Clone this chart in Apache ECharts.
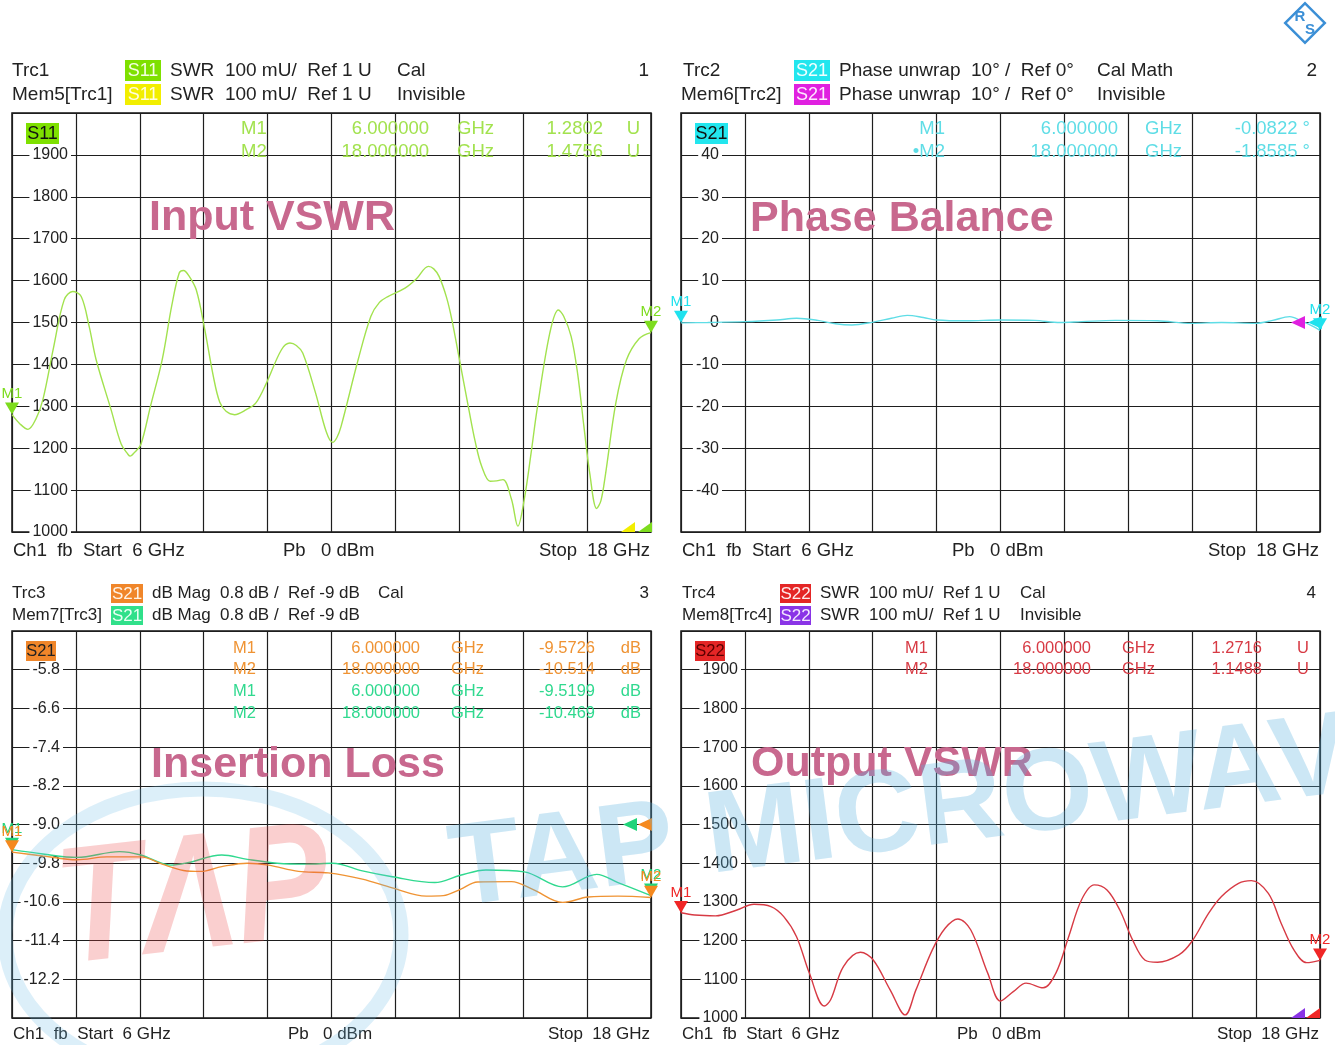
<!DOCTYPE html>
<html><head><meta charset="utf-8">
<script src="https://cdn.jsdelivr.net/npm/echarts@6/dist/echarts.min.js"></script>
<style>html,body{margin:0;padding:0;background:#fff;}#c{width:1335px;height:1045px;}</style>
</head><body><div id="c"></div>
<script>
// ---------------- DATA ----------------
const FREQ_START = 6, FREQ_STOP = 18, FREQ_DIV = 1.2;

// Panel 1: Input VSWR (S11 SWR, in mU)
const s11Freq = [6.00,6.15,6.30,6.45,6.58,6.78,6.98,7.14,7.30,7.45,7.58,7.86,8.05,8.18,8.22,8.30,8.42,8.60,8.82,9.00,9.14,9.22,9.32,9.46,9.62,9.78,9.90,10.02,10.18,10.40,10.58,10.78,11.06,11.22,11.34,11.46,11.70,11.90,12.02,12.10,12.18,12.50,12.74,12.90,13.06,13.38,13.60,13.82,13.92,14.02,14.16,14.26,14.38,14.58,14.70,14.82,14.98,15.10,15.22,15.38,15.50,15.62,15.75,15.86,16.10,16.26,16.36,16.50,16.62,16.74,16.85,16.98,17.06,17.14,17.34,17.54,17.78,18.00];
const s11Vals = [1280,1258,1245,1270,1316,1440,1554,1574,1562,1490,1411,1292,1210,1185,1181,1190,1209,1300,1411,1540,1618,1624,1612,1578,1483,1372,1310,1288,1280,1292,1308,1356,1435,1451,1445,1427,1332,1240,1214,1225,1252,1411,1515,1548,1562,1582,1605,1634,1628,1610,1560,1507,1427,1292,1215,1157,1121,1122,1125,1078,1014,1078,1190,1292,1475,1530,1515,1467,1380,1252,1140,1056,1075,1133,1308,1411,1462,1476];
const s11Markers = [[6, 1280.2], [18, 1475.6]];

// Panel 2: Phase balance (S21 phase unwrap, deg)
const phFreq = [6.0,6.5,7.2,7.8,8.17,8.57,8.9,9.21,9.61,9.95,10.25,10.55,10.8,11.36,12.0,12.64,13.12,13.52,14.16,14.95,15.59,16.15,16.79,17.11,17.43,17.65,17.85,18.0];
const phVals = [-0.08,0.0,0.2,0.6,1.0,0.5,-0.3,-0.6,0.1,1.0,1.7,1.2,0.6,0.4,0.6,0.5,0.0,0.2,0.5,0.4,-0.2,0.0,-0.2,0.5,1.4,0.4,-0.8,-1.86];
const phMarkers = [[6, -0.0822], [18, -1.8585]];

// Panel 3: Insertion loss (S21 dB mag), trace and memory
const ilFreq = [6.00,6.58,7.22,7.78,8.42,8.82,9.22,9.54,9.94,10.42,10.82,11.38,11.94,12.58,13.14,13.78,14.10,14.42,14.74,15.38,15.78,16.34,16.82,17.38,18.00];
const ilVals = [-9.57,-9.65,-9.73,-9.67,-9.67,-9.82,-9.95,-9.97,-9.87,-9.80,-9.84,-9.97,-10.00,-10.13,-10.31,-10.48,-10.47,-10.34,-10.19,-10.18,-10.34,-10.61,-10.50,-10.48,-10.51];
const ilMemFreq = [6.00,6.58,7.22,8.02,8.42,8.98,9.30,9.94,10.42,10.98,11.54,12.02,12.58,13.14,13.94,14.42,14.90,15.62,16.34,16.98,17.38,18.00];
const ilMemVals = [-9.52,-9.61,-9.68,-9.56,-9.63,-9.84,-9.79,-9.63,-9.72,-9.80,-9.82,-9.80,-9.96,-10.08,-10.20,-10.05,-9.94,-9.98,-10.29,-10.03,-10.20,-10.47];
const ilMarkers = [[6, -9.5726], [18, -10.514]];
const ilMemMarkers = [[6, -9.5199], [18, -10.469]];

// Panel 4: Output VSWR (S22 SWR, in mU)
const s22Freq = [6.00,6.26,6.65,7.05,7.37,7.69,7.93,8.17,8.41,8.69,8.81,9.05,9.37,9.61,9.93,10.21,10.41,10.72,10.96,11.20,11.44,11.76,12.00,12.24,12.48,12.80,13.04,13.28,13.52,13.76,14.00,14.24,14.48,14.71,14.95,15.35,15.59,15.91,16.15,16.47,16.71,17.03,17.27,17.51,17.75,18.00];
const s22Vals = [1272,1266,1264,1279,1294,1288,1262,1210,1116,1031,1047,1133,1170,1150,1072,1008,1072,1176,1232,1256,1228,1116,1044,1068,1090,1078,1116,1210,1305,1344,1331,1279,1202,1150,1144,1163,1197,1271,1314,1348,1355,1322,1245,1176,1143,1149];
const s22Markers = [[6, 1271.6], [18, 1148.8]];

// axis scales
const SWR_MIN = 1000, SWR_MAX = 2000, SWR_DIV = 100;
const PH_MIN = -50, PH_MAX = 50, PH_DIV = 10;
const IL_MIN = -13, IL_MAX = -5, IL_DIV = 0.8;
const REF_SWR = 1000, REF_PH = 0, REF_IL = -9;

// ---------------- STYLE ----------------
const FONT = '"Liberation Sans", Arial, sans-serif';
const C = {
  s11: '#a2e24e', s11m: '#7ddc1e', s11box: '#7ee000', mem5: '#f2ee00',
  ph: '#5fdde6', phm: '#1fe2ee', phbox: '#22e6ee', mem6: '#e020e0',
  il: '#ef9333', ilm: '#f5891e', ilbox: '#f0862a', il2: '#30d98f', il2m: '#22d47a', mem7: '#30e08a',
  s22: '#d73a44', s22m: '#f02626', s22box: '#e42626', mem8: '#8a34e6',
  title: '#c8688e', grid: '#1e1e1e'
};

const chart = echarts.init(document.getElementById('c'), null, {renderer: 'canvas'});

const gridDefs = [
  {left: 12, top: 113, width: 639, height: 419},
  {left: 681, top: 113, width: 639, height: 419},
  {left: 12, top: 631, width: 639, height: 387},
  {left: 681, top: 631, width: 639, height: 387}
].map(g => Object.assign(g, {show: true, borderColor: '#111', borderWidth: 1.5, backgroundColor: 'transparent'}));

const xAxes = [0,1,2,3].map(i => ({
  type: 'value', gridIndex: i, min: FREQ_START, max: FREQ_STOP, interval: FREQ_DIV,
  axisLine: {show: false}, axisTick: {show: false}, axisLabel: {show: false},
  splitLine: {show: true, lineStyle: {color: C.grid, width: 1.2}}
}));

function yAx(i, min, max, interval, margin, fmt, showMin) {
  return {
    type: 'value', gridIndex: i, min, max, interval,
    axisLine: {show: false}, axisTick: {show: false},
    splitLine: {show: true, lineStyle: {color: C.grid, width: 1.2}},
    axisLabel: {show: true, inside: true, align: 'right', margin, color: '#222', fontSize: 16,
      fontFamily: FONT, backgroundColor: '#fff', padding: [0, 3], formatter: fmt,
      showMinLabel: showMin, showMaxLabel: false}
  };
}
// insertion-loss axis is expressed as offset above its bottom so divisions start at the bottom line
const yAxes = [
  yAx(0, SWR_MIN, SWR_MAX, SWR_DIV, 59, v => String(Math.round(v)), true),
  yAx(1, PH_MIN, PH_MAX, PH_DIV, 41, v => String(Math.round(v)), false),
  yAx(2, 0, IL_MAX - IL_MIN, IL_DIV, 51, v => (v + IL_MIN).toFixed(1), false),
  yAx(3, SWR_MIN, SWR_MAX, SWR_DIV, 60, v => String(Math.round(v)), true)
];

function mkDown(name, coord, color) {
  return {name, coord, symbol: 'triangle', symbolSize: [14, 12], symbolRotate: 180, symbolOffset: [0, -6],
    itemStyle: {color},
    label: {show: true, position: 'top', distance: 1, formatter: name, color, fontSize: 15, fontFamily: FONT}};
}
function refTri(coord, color, dx, half) {
  return {name: 'ref', coord,
    symbol: half ? 'path://M0,10L14,0L14,10Z' : 'triangle',
    symbolSize: half ? [14, 10] : [13, 14], symbolRotate: half ? 0 : 90,
    symbolOffset: half ? [dx, -5] : [dx, 0], itemStyle: {color}, label: {show: false}};
}
function lineSeries(i, freq, vals, color, marks, off) {
  off = off || 0;
  return {
    type: 'line', xAxisIndex: i, yAxisIndex: i, silent: true, animation: false,
    showSymbol: false, smooth: 0.35, clip: true,
    lineStyle: {color, width: 1.4}, itemStyle: {color},
    data: freq.map((f, k) => [f, vals[k] - off]),
    markPoint: {silent: true, animation: false, data: marks || []}
  };
}

const series = [
  lineSeries(0, s11Freq, s11Vals, C.s11, [
    refTri([FREQ_STOP, REF_SWR], C.mem5, -23, true),
    refTri([FREQ_STOP, REF_SWR], C.s11m, -6, true),
    mkDown('M1', s11Markers[0], C.s11m),
    mkDown('M2', s11Markers[1], C.s11m)
  ]),
  lineSeries(1, phFreq, phVals, C.ph, [
    refTri([FREQ_STOP, REF_PH], C.mem6, -22, false),
    refTri([FREQ_STOP, REF_PH], C.phm, -5, false),
    mkDown('M1', phMarkers[0], C.phm),
    mkDown('M2', phMarkers[1], C.phm)
  ]),
  lineSeries(2, ilMemFreq, ilMemVals, C.il2, [
    refTri([FREQ_STOP, REF_IL - IL_MIN], C.il2m, -21, false),
    mkDown('M1', [ilMemMarkers[0][0], ilMemMarkers[0][1] - IL_MIN], C.il2m),
    mkDown('M2', [ilMemMarkers[1][0], ilMemMarkers[1][1] - IL_MIN], C.il2m)
  ], IL_MIN),
  lineSeries(2, ilFreq, ilVals, C.il, [
    refTri([FREQ_STOP, REF_IL - IL_MIN], C.ilm, -6, false),
    mkDown('M1', [ilMarkers[0][0], ilMarkers[0][1] - IL_MIN], C.ilm),
    mkDown('M2', [ilMarkers[1][0], ilMarkers[1][1] - IL_MIN], C.ilm)
  ], IL_MIN),
  lineSeries(3, s22Freq, s22Vals, C.s22, [
    refTri([FREQ_STOP, REF_SWR], C.mem8, -22, true),
    refTri([FREQ_STOP, REF_SWR], C.s22m, -7, true),
    mkDown('M1', s22Markers[0], C.s22m),
    mkDown('M2', s22Markers[1], C.s22m)
  ])
];

// ---------------- TEXT / DECOR ----------------
const G = [];
function T(x, y, text, size, color, align, extra) {
  G.push(Object.assign({type: 'text', x, y, silent: true, z: 10,
    style: {text, fill: color || '#222', font: size + 'px ' + FONT,
      textAlign: align || 'left', align: align || 'left',
      textVerticalAlign: 'middle', verticalAlign: 'middle'}}, extra || {}));
}
function box(x, y, w, h, fill, text, tcolor, size) {
  G.push({type: 'rect', silent: true, z: 9, shape: {x, y, width: w, height: h}, style: {fill}});
  T(x + w / 2, y + h / 2 + 0.5, text, size, tcolor, 'center');
}
const swr = v => (v / 1000).toFixed(4);
const fq = f => f.toFixed(6);

// Panel 1 header
T(12, 71, 'Trc1', 19); box(125, 60, 36, 21, C.s11box, 'S11', '#f4ffe0', 18);
T(170, 71, 'SWR  100 mU/  Ref 1 U', 19); T(397, 71, 'Cal', 19); T(649, 71, '1', 19, '#222', 'right');
T(12, 95, 'Mem5[Trc1]', 19); box(125, 84, 36, 21, C.mem5, 'S11', '#fffde0', 18);
T(170, 95, 'SWR  100 mU/  Ref 1 U', 19); T(397, 95, 'Invisible', 19);
box(26, 123, 33, 21, C.s11box, 'S11', '#111', 18);
[[0, 129], [1, 152]].forEach(([k, y]) => {
  T(241, y, 'M' + (k + 1), 18.5, C.s11); T(429, y, fq(s11Markers[k][0]), 18.5, C.s11, 'right');
  T(457, y, 'GHz', 18.5, C.s11); T(603, y, swr(s11Markers[k][1]), 18.5, C.s11, 'right'); T(640, y, 'U', 18.5, C.s11, 'right');
});
T(13, 551, 'Ch1  fb  Start  6 GHz', 18.5); T(283, 551, 'Pb   0 dBm', 18.5); T(650, 551, 'Stop  18 GHz', 18.5, '#222', 'right');

// Panel 2 header
T(683, 71, 'Trc2', 19); box(794, 60, 36, 21, C.phbox, 'S21', '#f0ffff', 18);
T(839, 71, 'Phase unwrap  10° /  Ref 0°', 19); T(1097, 71, 'Cal Math', 19); T(1317, 71, '2', 19, '#222', 'right');
T(681, 95, 'Mem6[Trc2]', 19); box(794, 84, 36, 21, C.mem6, 'S21', '#ffe8ff', 18);
T(839, 95, 'Phase unwrap  10° /  Ref 0°', 19); T(1097, 95, 'Invisible', 19);
box(695, 123, 33, 21, C.phbox, 'S21', '#111', 18);
[[0, 129, 'M1'], [1, 152, '•M2']].forEach(([k, y, nm]) => {
  T(945, y, nm, 18.5, C.ph, 'right'); T(1118, y, fq(phMarkers[k][0]), 18.5, C.ph, 'right');
  T(1145, y, 'GHz', 18.5, C.ph); T(1310, y, phMarkers[k][1].toFixed(4) + ' °', 18.5, C.ph, 'right');
});
T(682, 551, 'Ch1  fb  Start  6 GHz', 18.5); T(952, 551, 'Pb   0 dBm', 18.5); T(1319, 551, 'Stop  18 GHz', 18.5, '#222', 'right');

// Panel 3 header
T(12, 593, 'Trc3', 17); box(111, 584, 32, 19, C.ilbox, 'S21', '#fff3e6', 17);
T(152, 593, 'dB Mag  0.8 dB /  Ref -9 dB', 17); T(378, 593, 'Cal', 17); T(649, 593, '3', 17, '#222', 'right');
T(12, 615, 'Mem7[Trc3]', 17); box(111, 606, 32, 19, C.mem7, 'S21', '#eafff4', 17);
T(152, 615, 'dB Mag  0.8 dB /  Ref -9 dB', 17);
box(26, 641, 30, 20, C.ilbox, 'S21', '#222', 16.5);
[[ilMarkers, 0, 648, C.il], [ilMarkers, 1, 669, C.il], [ilMemMarkers, 0, 691, C.il2], [ilMemMarkers, 1, 713, C.il2]].forEach(([arr, k, y, col]) => {
  T(233, y, 'M' + (k + 1), 16.5, col); T(420, y, fq(arr[k][0]), 16.5, col, 'right');
  T(451, y, 'GHz', 16.5, col); T(595, y, arr[k][1].toPrecision(5), 16.5, col, 'right'); T(641, y, 'dB', 16.5, col, 'right');
});
T(13, 1034, 'Ch1  fb  Start  6 GHz', 17); T(288, 1034, 'Pb   0 dBm', 17); T(650, 1034, 'Stop  18 GHz', 17, '#222', 'right');

// Panel 4 header
T(682, 593, 'Trc4', 17); box(780, 584, 31, 19, C.s22box, 'S22', '#ffecec', 17);
T(820, 593, 'SWR  100 mU/  Ref 1 U', 17); T(1020, 593, 'Cal', 17); T(1316, 593, '4', 17, '#222', 'right');
T(682, 615, 'Mem8[Trc4]', 17); box(780, 606, 31, 19, C.mem8, 'S22', '#f3e8ff', 17);
T(820, 615, 'SWR  100 mU/  Ref 1 U', 17); T(1020, 615, 'Invisible', 17);
box(695, 641, 30, 20, C.s22box, 'S22', '#5a0000', 16.5);
[[0, 648], [1, 669]].forEach(([k, y]) => {
  T(905, y, 'M' + (k + 1), 16.5, C.s22); T(1091, y, fq(s22Markers[k][0]), 16.5, C.s22, 'right');
  T(1122, y, 'GHz', 16.5, C.s22); T(1262, y, swr(s22Markers[k][1]), 16.5, C.s22, 'right'); T(1309, y, 'U', 16.5, C.s22, 'right');
});
T(682, 1034, 'Ch1  fb  Start  6 GHz', 17); T(957, 1034, 'Pb   0 dBm', 17); T(1319, 1034, 'Stop  18 GHz', 17, '#222', 'right');

// Big titles
function title(x, y, text) {
  G.push({type: 'text', x, y, silent: true, z: 5,
    style: {text, fill: C.title, font: 'bold 43px ' + FONT, textAlign: 'left', align: 'left',
      textVerticalAlign: 'middle', verticalAlign: 'middle'}});
}
title(149, 218, 'Input VSWR');
title(750, 219, 'Phase Balance');
title(151, 765, 'Insertion Loss');
title(751, 764, 'Output VSWR');

// R&S logo
G.push({type: 'rect', x: 1305, y: 23, rotation: Math.PI / 4, silent: true, z: 10,
  shape: {x: -14, y: -14, width: 28, height: 28}, style: {fill: '#fff', stroke: '#3b8fd6', lineWidth: 2.5}});
T(1300, 17, 'R', 15, '#3b8fd6', 'center', {style: {text: 'R', fill: '#3b8fd6', font: 'bold 15px ' + FONT, align: 'center', textAlign: 'center', verticalAlign: 'middle', textVerticalAlign: 'middle'}});
T(1310, 30, 'S', 15, '#3b8fd6', 'center', {style: {text: 'S', fill: '#3b8fd6', font: 'bold 15px ' + FONT, align: 'center', textAlign: 'center', verticalAlign: 'middle', textVerticalAlign: 'middle'}});

// Watermarks
G.push({type: 'ellipse', silent: true, z: 50, shape: {cx: 203, cy: 935, rx: 198, ry: 146},
  style: {fill: 'none', stroke: 'rgba(110,190,230,0.24)', lineWidth: 15}});
G.push({type: 'text', x: 58, y: 918, rotation: 0.11, scaleX: 0.85, silent: true, z: 50,
  style: {text: 'TΛP', fill: 'rgba(235,70,70,0.26)', font: 'italic bold 165px ' + FONT,
    textAlign: 'left', align: 'left', textVerticalAlign: 'middle', verticalAlign: 'middle'}});
G.push({type: 'text', x: 451, y: 874, rotation: 0.128, silent: true, z: 50,
  style: {text: 'TAP MICROWAVE', fill: 'rgba(90,178,222,0.31)', font: 'bold 117px ' + FONT,
    textAlign: 'left', align: 'left', textVerticalAlign: 'middle', verticalAlign: 'middle'}});

chart.setOption({
  backgroundColor: '#fff',
  animation: false,
  grid: gridDefs,
  xAxis: xAxes,
  yAxis: yAxes,
  series,
  graphic: {elements: G}
});
</script>
</body></html>
